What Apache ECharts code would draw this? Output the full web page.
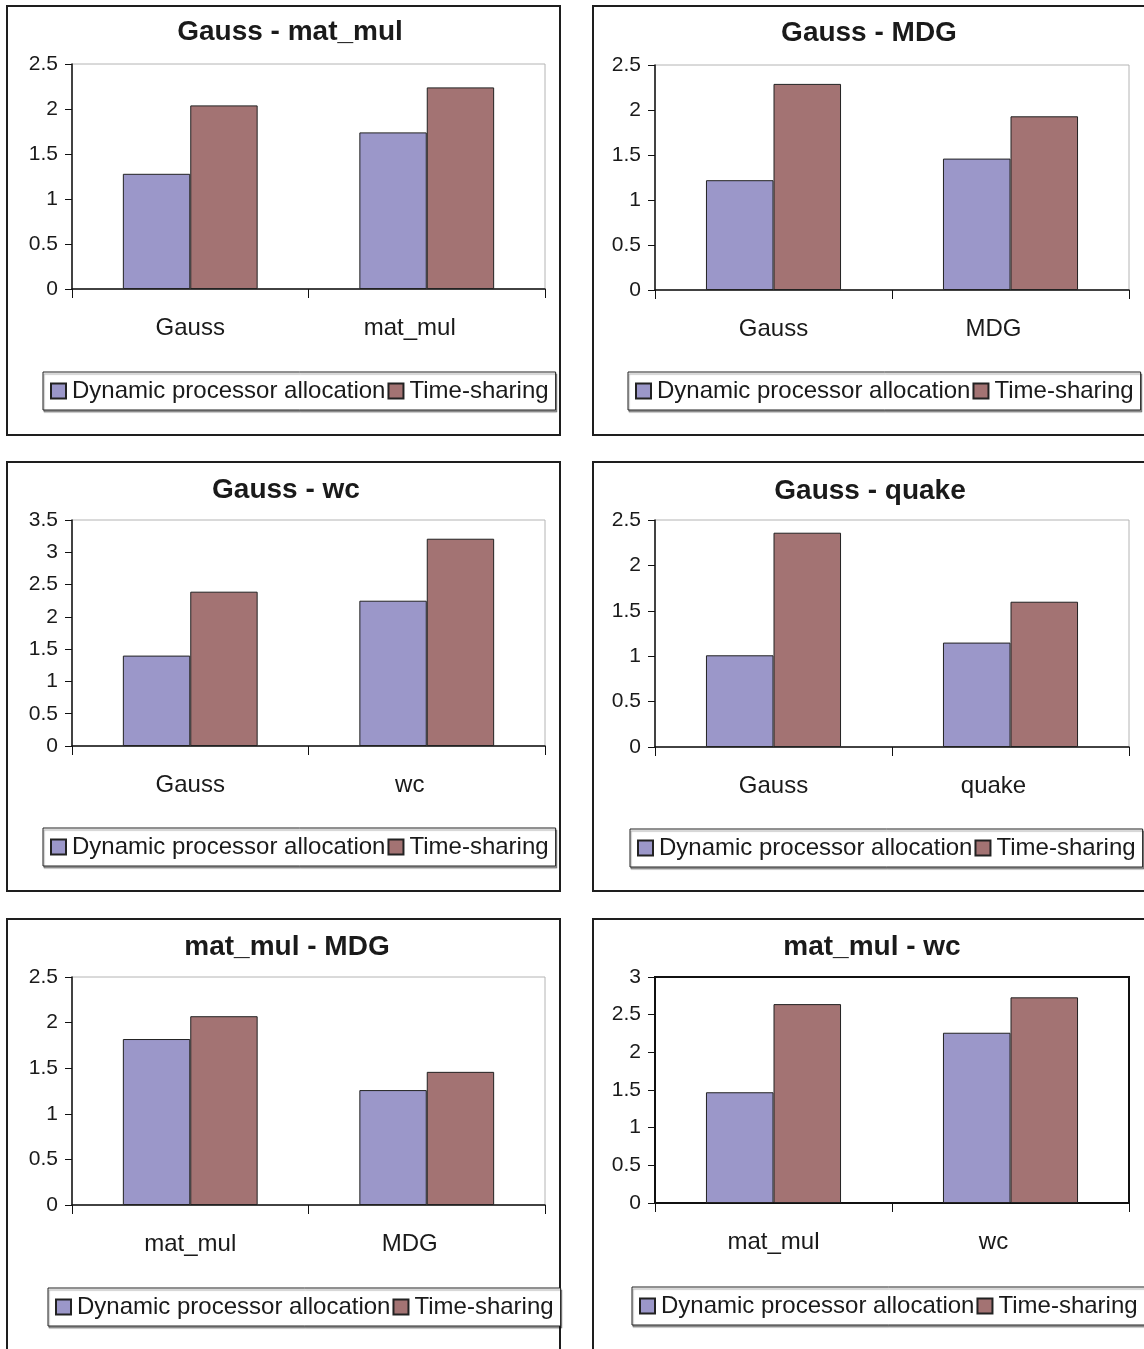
<!DOCTYPE html>
<html>
<head>
<meta charset="utf-8">
<title>Dynamic processor allocation vs Time-sharing</title>
<script src="https://cdn.jsdelivr.net/npm/echarts@6/dist/echarts.min.js"></script>
<style>
  html, body { margin: 0; padding: 0; background: #fff; }
  #chart { width: 1144px; height: 1349px; }
</style>
</head>
<body>
<div id="chart"></div>
<script>
// Workload pairs, one panel each
const panelTitles = ['Gauss - mat_mul', 'Gauss - MDG', 'Gauss - wc', 'Gauss - quake', 'mat_mul - MDG', 'mat_mul - wc'];
const categories = [
  ['Gauss', 'mat_mul'],
  ['Gauss', 'MDG'],
  ['Gauss', 'wc'],
  ['Gauss', 'quake'],
  ['mat_mul', 'MDG'],
  ['mat_mul', 'wc']
];
const seriesNames = ['Dynamic processor allocation', 'Time-sharing'];
const dynamicAlloc = [
  [1.28, 1.74],
  [1.22, 1.46],
  [1.40, 2.25],
  [1.01, 1.15],
  [1.82, 1.26],
  [1.47, 2.26]
];
const timeSharing = [
  [2.04, 2.24],
  [2.29, 1.93],
  [2.39, 3.21],
  [2.36, 1.60],
  [2.07, 1.46],
  [2.64, 2.73]
];
const yMax = [2.5, 2.5, 3.5, 2.5, 2.5, 3];
const yStep = 0.5;

// Page layout for the six panels (pixels)
const layout = [
  { frame: [7, 6, 553, 429],   grid: [72, 64, 473, 225],  title: [290, 31],  legend: [43, 372] },
  { frame: [593, 6, 560, 429], grid: [655, 65, 474, 225], title: [869, 32],  legend: [628, 372] },
  { frame: [7, 462, 553, 429], grid: [72, 520, 473, 226], title: [286, 489], legend: [43, 828] },
  { frame: [593, 462, 560, 429], grid: [655, 520, 474, 227], title: [870, 490], legend: [630, 829] },
  { frame: [7, 919, 553, 450], grid: [72, 977, 473, 228], title: [287, 946], legend: [48, 1288] },
  { frame: [593, 919, 560, 450], grid: [655, 977, 474, 226], title: [872, 946], legend: [632, 1287] }
];

const FONT = "'Liberation Sans', Arial, sans-serif";
const TEXT = '#1a1a1a';
const BLUE = '#9b97c9';
const RED = '#a37373';

const chart = echarts.init(document.getElementById('chart'), null, { renderer: 'canvas' });

const grids = [], xAxes = [], yAxes = [], titles = [], legends = [], series = [], frames = [];

layout.forEach((p, i) => {
  const [gl, gt, gw, gh] = p.grid;
  grids.push({
    left: gl, top: gt, width: gw, height: gh,
    show: true,
    borderColor: i === 5 ? '#111' : '#b4b4b4',
    borderWidth: i === 5 ? 2 : 1,
    backgroundColor: 'transparent'
  });
  // the second category label sits a little left of its slot centre
  const catData = categories[i].map((c, k) => (
    k === 1 ? { value: c, textStyle: { padding: [0, 34, 0, 0] } } : c
  ));
  xAxes.push({
    type: 'category',
    gridIndex: i,
    data: catData,
    boundaryGap: true,
    axisLine: { show: true, lineStyle: { color: '#111', width: 1.5 } },
    axisTick: { show: true, length: 9, lineStyle: { color: '#111', width: 1 } },
    axisLabel: { fontFamily: FONT, fontSize: 24, color: TEXT, margin: 27 },
    splitLine: { show: false }
  });
  yAxes.push({
    type: 'value',
    gridIndex: i,
    min: 0,
    max: yMax[i],
    interval: yStep,
    axisLine: { show: true, lineStyle: { color: '#111', width: 1.5 } },
    axisTick: { show: true, length: 7, lineStyle: { color: '#111', width: 1 } },
    axisLabel: { fontFamily: FONT, fontSize: 21, color: TEXT, margin: 14 },
    splitLine: { show: false }
  });
  titles.push({
    text: panelTitles[i],
    left: p.title[0],
    top: p.title[1] - 13,
    textAlign: 'center',
    padding: 0,
    textStyle: { fontFamily: FONT, fontSize: 28, fontWeight: 'bold', color: TEXT }
  });
  legends.push({
    data: seriesNames,
    left: p.legend[0],
    top: p.legend[1],
    width: 560,
    orient: 'horizontal',
    icon: 'rect',
    itemWidth: 15,
    itemHeight: 15,
    itemGap: 2,
    padding: [7, 7, 7, 7],
    borderColor: '#222',
    borderWidth: 1,
    backgroundColor: '#fff',
    shadowColor: 'rgba(0,0,0,0.35)',
    shadowOffsetX: 1,
    shadowOffsetY: 2,
    shadowBlur: 1,
    selectedMode: false,
    textStyle: { fontFamily: FONT, fontSize: 24, color: TEXT, padding: [0, 0, 0, 1] }
  });
  const [fx, fy, fw, fh] = p.frame;
  frames.push({
    type: 'rect',
    shape: { x: fx, y: fy, width: fw, height: fh },
    style: { fill: 'none', stroke: '#1e1e1e', lineWidth: 2 },
    z: -10,
    silent: true
  });
  series.push({
    name: seriesNames[0],
    type: 'bar',
    xAxisIndex: i,
    yAxisIndex: i,
    data: dynamicAlloc[i],
    barGap: '0%',
    barCategoryGap: '43%',
    itemStyle: { color: BLUE, borderColor: '#222', borderWidth: 1 }
  });
  series.push({
    name: seriesNames[1],
    type: 'bar',
    xAxisIndex: i,
    yAxisIndex: i,
    data: timeSharing[i],
    barGap: '0%',
    barCategoryGap: '43%',
    itemStyle: { color: RED, borderColor: '#222', borderWidth: 1 }
  });
});

chart.setOption({
  animation: false,
  backgroundColor: '#fff',
  title: titles,
  legend: legends,
  grid: grids,
  xAxis: xAxes,
  yAxis: yAxes,
  series: series,
  graphic: { elements: frames }
});
</script>
</body>
</html>
